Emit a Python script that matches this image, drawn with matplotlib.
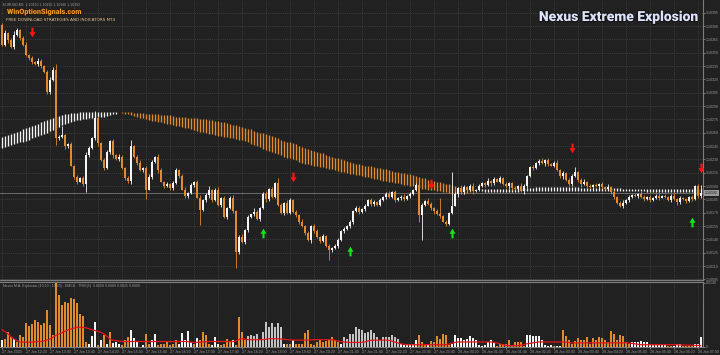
import matplotlib
matplotlib.use("Agg")
import matplotlib.pyplot as plt
import numpy as np
from matplotlib.path import Path
import matplotlib.patheffects as pe
from matplotlib import font_manager as fm
from matplotlib.transforms import blended_transform_factory

# ---------------- data (prices in points: price = 1.10000 + pts/100000) ----------------
open0_pts = 381
close_pts = [
    359, 372, 364, 356, 370, 376, 367, 359, 347, 344,
    340, 337, 341, 335, 328, 306, 319, 331, 254, 255,
    257, 245, 247, 223, 210, 205, 209, 202, 235, 243,
    254, 277, 248, 229, 220, 238, 251, 235, 230, 233,
    220, 209, 206, 245, 233, 226, 218, 220, 196, 210,
    227, 233, 218, 205, 200, 202, 198, 203, 218, 211,
    196, 189, 192, 201, 205, 187, 173, 184, 190, 196,
    184, 196, 179, 187, 165, 175, 187, 172, 126, 143,
    137, 151, 165, 168, 171, 163, 175, 191, 185, 197,
    188, 203, 179, 170, 181, 170, 184, 171, 167, 160,
    155, 147, 139, 155, 149, 143, 138, 144, 133, 128,
    130, 133, 139, 149, 152, 155, 160, 172, 175, 171,
    174, 178, 184, 180, 182, 179, 184, 188, 191, 188,
    193, 184, 187, 188, 185, 189, 191, 196, 201, 167,
    179, 183, 180, 175, 172, 168, 166, 160, 157, 170,
    178, 191, 198, 193, 199, 196, 200, 194, 196, 200,
    203, 201, 206, 203, 208, 205, 209, 202, 200, 203,
    198, 197, 200, 194, 200, 211, 221, 220, 226, 228,
    226, 229, 225, 223, 226, 218, 211, 215, 207, 202,
    211, 216, 207, 202, 205, 200, 199, 201, 200, 202,
    199, 197, 199, 193, 188, 181, 178, 181, 184, 188,
    190, 189, 191, 188, 185, 188, 184, 187, 189, 187,
    189, 188, 184, 189, 185, 182, 187, 185, 183, 188,
    185, 200, 189, 192,
]
wick_up_pts = [
    2, 3, 1, 2, 4, 2, 1, 2, 3, 1,
    2, 1, 3, 2, 1, 2, 4, 3, 6, 2,
    11, 2, 1, 3, 1, 2, 1, 2, 3, 2,
    1, 7, 2, 1, 3, 2, 1, 2, 1, 3,
    2, 1, 2, 7, 1, 2, 3, 1, 2, 3,
    2, 1, 3, 2, 1, 2, 1, 3, 2, 1,
    2, 3, 1, 2, 1, 2, 3, 1, 2, 4,
    1, 2, 3, 1, 2, 1, 2, 3, 1, 2,
    3, 1, 2, 1, 4, 2, 1, 2, 3, 1,
    2, 1, 6, 2, 1, 3, 2, 1, 2, 1,
    3, 1, 2, 1, 2, 3, 1, 2, 1, 2,
    1, 2, 3, 1, 2, 1, 2, 1, 3, 2,
    1, 2, 1, 3, 2, 1, 2, 1, 2, 3,
    1, 2, 1, 2, 3, 1, 2, 1, 2, 6,
    2, 1, 3, 2, 1, 2, 18, 1, 2, 1,
    38, 2, 1, 3, 2, 1, 2, 3, 1, 2,
    1, 2, 3, 1, 2, 1, 2, 1, 3, 2,
    1, 2, 1, 3, 2, 1, 2, 3, 1, 2,
    3, 1, 2, 1, 2, 3, 1, 2, 1, 2,
    2, 5, 1, 2, 3, 1, 2, 1, 2, 1,
    2, 1, 3, 1, 2, 1, 2, 3, 1, 2,
    1, 2, 1, 3, 2, 1, 2, 1, 2, 3,
    1, 2, 1, 2, 3, 1, 2, 1, 2, 1,
    2, 1, 2, 9,
]
wick_dn_pts = [
    1, 2, 3, 1, 2, 1, 3, 2, 1, 2,
    3, 1, 2, 2, 1, 3, 2, 1, 8, 2,
    1, 3, 2, 1, 2, 3, 1, 2, 9, 2,
    1, 2, 3, 1, 2, 1, 2, 3, 1, 2,
    1, 2, 3, 4, 1, 2, 1, 2, 11, 1,
    2, 1, 3, 1, 2, 1, 2, 3, 1, 2,
    1, 2, 3, 1, 2, 1, 17, 1, 2, 3,
    2, 1, 2, 3, 1, 2, 1, 2, 18, 3,
    1, 2, 3, 1, 2, 1, 2, 1, 3, 2,
    1, 2, 1, 2, 3, 1, 2, 1, 2, 3,
    1, 2, 1, 3, 2, 1, 2, 1, 2, 11,
    2, 1, 3, 1, 2, 1, 2, 3, 1, 2,
    1, 2, 1, 2, 3, 1, 2, 1, 3, 2,
    1, 2, 1, 3, 2, 1, 2, 1, 2, 8,
    28, 2, 1, 2, 3, 1, 2, 1, 2, 1,
    2, 1, 3, 1, 2, 1, 2, 3, 1, 2,
    1, 2, 1, 3, 2, 1, 2, 1, 2, 3,
    2, 1, 2, 1, 3, 2, 1, 2, 1, 2,
    1, 3, 2, 1, 2, 1, 2, 3, 1, 2,
    2, 1, 2, 3, 1, 2, 1, 2, 1, 3,
    1, 2, 1, 2, 3, 1, 2, 3, 1, 2,
    2, 1, 3, 1, 2, 1, 2, 1, 2, 3,
    1, 2, 1, 2, 1, 3, 2, 1, 2, 1,
    2, 1, 2, 2,
]
ma_fast_pts = [
    255, 256, 257, 259, 260, 261, 262, 264, 265, 266,
    268, 269, 270, 272, 273, 274, 275, 277, 278, 279,
    280, 280.5, 281, 282, 282, 282.5, 283, 283, 283, 283,
    283, 283, 283, 283, 283, 283, 283, 283, 283, 282.5,
    282, 281, 280.5, 280, 279, 278, 277, 277, 275, 274,
    273.5, 273, 272.5, 272, 271, 270, 270, 269, 268, 267,
    266, 265, 265, 264, 263, 262, 261, 261, 260, 259,
    259, 257, 256, 256, 255, 255, 254, 253.5, 253, 252,
    252, 251, 249, 247, 246, 245, 243.5, 242, 241, 239,
    238, 237, 236, 235, 233, 232, 231, 230, 229, 227,
    226, 225, 225, 224, 223, 223, 221, 221, 220, 219,
    219, 218, 217, 216, 216, 215, 214, 213, 212, 212,
    211, 210, 210, 209, 208, 208, 207, 206, 206, 205,
    205, 203, 203, 202, 201, 201, 200, 200, 199, 198,
    197, 197, 196, 196, 195, 194, 194, 193, 193, 192,
    192, 191.5, 191, 191, 191, 192, 193, 194, 195.5, 196,
    196.5, 197, 197, 197, 197, 197, 197, 197, 197, 197,
    197, 197, 197.5, 197.5, 197.5, 198, 198, 198, 198.5, 198.5,
    198.5, 198.5, 198.5, 198.5, 198.5, 198.5, 198.5, 198.5, 198.5, 198.5,
    198.5, 198.5, 198.5, 198, 198, 198, 198, 198, 198, 198,
    198, 198, 198, 197.5, 197.5, 197.5, 197.5, 197, 197, 197,
    197, 197, 197, 197, 197, 196.5, 196.5, 196.5, 196.5, 196.5,
    196.5, 196.5, 196.5, 196.5, 196.5, 196.5, 196.5, 196.5, 196.5, 196.5,
    196.5, 196.5, 196.5, 196.5,
]
ma_slow_pts = [
    243, 244, 245, 246, 247, 248, 249, 250, 251, 252,
    253.5, 255, 256, 257, 259, 260, 262, 263, 265, 266,
    269, 270, 271, 272, 273, 274, 274, 275, 275.5, 276,
    277, 277, 278, 278, 278, 279, 280, 281, 281.5, 282,
    283, 283, 283, 283, 282, 282, 282, 282, 281.5, 281.5,
    281, 281, 280.5, 280, 280, 279.5, 279.5, 279, 278, 278,
    278, 278, 277, 277, 277, 276, 275, 275, 275, 274,
    274, 273, 273, 272, 272, 271, 270, 269, 269, 268,
    266, 265, 264, 264, 262, 261, 260, 260, 259, 257,
    256, 255, 254, 252, 251, 250, 249, 248, 247, 245,
    244, 243, 242, 241, 239, 238, 237, 237, 235, 234,
    233, 232, 231, 230, 229, 228, 227, 226, 225, 225,
    224, 223, 223, 222, 221, 220, 220, 219, 219, 218,
    217, 216, 216, 215, 215, 214, 213, 212, 211, 210,
    209, 209, 207, 206, 206, 205, 204, 203, 202, 202,
    201, 200, 199, 198, 198, 197, 197, 196, 195.5, 195,
    194, 193.5, 193.5, 193.5, 193.5, 193.5, 193.5, 193.5, 193.5, 193.5,
    193.5, 193.5, 193.5, 194, 194, 194, 194, 194, 194.5, 194.5,
    194.5, 194.5, 194.5, 194.5, 194.5, 194.5, 194.5, 194.5, 194.5, 194.5,
    194.5, 194.5, 194.5, 194.5, 194.5, 194.5, 194.5, 194.5, 194.5, 194.5,
    194.5, 194.5, 194.5, 194.5, 194.5, 194, 194, 194, 194, 194,
    194, 194, 194, 194, 194, 193.5, 193.5, 193.5, 193.5, 193.5,
    193.5, 193.5, 193.5, 193.5, 193.5, 193.5, 193.5, 193.5, 193.5, 193.5,
    193.5, 193.5, 193.5, 193.5,
]
# histogram of the sub-window (units of 0.0001) and its colour code
hist_vals = [
    15, 18, 33, 22, 18, 11, 26, 22, 53, 46, 50, 60, 55, 48, 52, 81, 48, 26, 140, 114,
    92, 99, 96, 107, 105, 97, 72, 68, 11, 7, 24, 55, 4, 15, 26, 7, 33, 9, 11, 7,
    4, 15, 22, 38, 20, 11, 1, 4, 29, 7, 15, 29, 4, 7, 6, 13, 4, 7, 16, 7,
    31, 15, 35, 11, 7, 20, 15, 32, 26, 7, 4, 21, 7, 4, 7, 18, 11, 16, 4, 65,
    33, 16, 24, 26, 24, 29, 15, 32, 55, 43, 53, 43, 53, 43, 6, 7, 6, 16, 7, 7,
    6, 31, 37, 6, 4, 11, 15, 12, 13, 18, 21, 15, 10, 6, 22, 18, 28, 29, 44, 40,
    38,
    31, 33, 38, 31, 22, 15, 22, 22, 22, 27, 22, 17, 6, 4, 6, 7, 6, 15, 27, 10,
    4, 4, 13, 11, 24, 18, 28, 27, 4, 6, 27, 20, 20, 15, 18, 24, 20, 15, 4, 3,
    5, 11, 15, 11, 3, 6, 6, 6, 15, 4, 12, 12, 10, 3, 27, 27, 24, 24, 25, 15,
    4, 3, 4, 2, 3, 3, 38, 23, 15, 6, 13, 20, 16, 16, 21, 7, 19, 15, 21, 19,
    16, 12, 35, 28, 16, 27, 24, 12, 6, 10, 10, 10, 13, 10, 10, 6, 5, 5, 5, 4,
    4, 3, 3, 3, 6, 6, 3, 2, 3, 3, 6, 6, 21,
]
hist_kind = list(
    "wooowooooo" "oooooooooo" "ooooooooow" "wwowowowww" "ooowwwwwoo"
    "wwooooooow" "wwwwowoooo" "wwwoooowoo" "oogggggggg" "ggggwoowoo"
    "oooooooooo" "ooowgggggg" "g"
    "gggggggggggg" "wwwwww" "ooo" "w" "ooooooo" "wwwwwwwwwwwwwww" "oooooooooo"
    "wwwwwwwww" "o" "ww" "ooooooooooooooooooooooo" "wwwwwwwwwwww" "oo" "www" "oooo" "www"
)
signal_vals = [
    38, 34, 29, 23, 18, 14, 11, 11, 10.5, 10.5,
    11, 11, 12, 12, 13, 15, 17, 21, 25, 28,
    31, 34, 37, 39, 41, 43, 43, 43, 42, 40,
    38, 36, 34, 32, 29, 24, 18, 15, 14, 13,
    12.5, 12, 12, 12, 12, 12, 12, 12, 12, 12,
    12, 12, 12, 12, 12, 12, 12, 12, 12, 12,
    12, 12, 12, 10.5, 10, 10, 10.5, 11, 11.5, 12,
    12, 12, 12, 12, 12, 12, 12, 12, 13, 16,
    18, 17.5, 16, 16, 16, 16, 16, 16, 17, 18,
    18, 18, 18, 17.5, 17, 16, 15.5, 15, 15, 15,
    15, 15, 15, 15.5, 16, 16, 16, 16, 16, 16,
    16, 15, 13, 12, 11, 10.5, 10, 10, 10, 10,
    10.5, 11, 13, 14.5, 15, 15, 15, 15, 15, 14.5,
    13, 11, 9, 7, 6, 5, 5, 5, 5, 5,
    5, 5, 5, 5, 5, 5, 5, 5, 5, 6,
    8, 10, 11, 11, 11, 11, 11, 11, 11, 11,
    11, 11, 11, 11, 10, 9, 7, 5, 4, 3,
    3, 3, 3, 4, 5, 7, 8, 9, 10, 11,
    11, 11, 11, 11, 11, 11, 11, 11, 10.5, 10,
    9, 9, 9, 9, 9, 9, 9, 9, 9, 9,
    9, 9, 9, 9, 9, 9, 9, 9, 9, 8.5,
    8, 7, 6, 5, 5, 5, 5, 5, 5, 5,
    5, 5, 5, 5, 5, 5, 4.5, 4.5, 4, 4,
    4, 3.5, 3.5, 3,
]
# signal arrows: bar index and price (points)
sell_bars = [10, 97, 143, 190, 233]
sell_pts = [373, 210, 202, 243, 220]
buy_bars = [87, 116, 150, 230]
buy_pts = [147, 127, 147, 160]

time_labels = [
    "27 Jan 2020", "27 Jan 12:20", "27 Jan 13:00", "27 Jan 13:40", "27 Jan 14:20",
    "27 Jan 15:00", "27 Jan 15:40", "27 Jan 16:20", "27 Jan 17:00", "27 Jan 17:40",
    "27 Jan 18:20", "27 Jan 19:00", "27 Jan 19:40", "27 Jan 20:20", "27 Jan 21:00",
    "27 Jan 21:40", "27 Jan 22:20", "27 Jan 23:00", "27 Jan 23:40", "28 Jan 00:20",
    "28 Jan 01:00", "28 Jan 01:40", "28 Jan 02:20", "28 Jan 03:00", "28 Jan 03:40",
    "28 Jan 04:20", "28 Jan 05:00", "28 Jan 05:40", "28 Jan 06:20", "28 Jan 07:00",
]
label_step = 8
price_ticks_pts = [395 - 15 * k for k in range(21)]

# ---------------- style ----------------
BG = "#212121"
GRID = "#474747"
SPINE = "#7d7d7d"
TXT = "#9c9c9c"
ORANGE = "#e08b2e"
WHITE = "#f4f4f4"
GREY = "#c4c4c4"

title_fp = fm.FontProperties(family=["Roboto", "DejaVu Sans"], weight=900, size=10.0)
logo_fp = fm.FontProperties(family=["Roboto", "DejaVu Sans"], weight=900, size=5.2)
tick_fp = fm.FontProperties(family=["Liberation Sans", "DejaVu Sans"], size=2.5)
small_fp = fm.FontProperties(family=["Liberation Sans", "DejaVu Sans"], size=2.5)

plt.rcParams["font.family"] = ["DejaVu Sans"]

W, H = 720, 355
fig = plt.figure(figsize=(W / 100, H / 100), dpi=100, facecolor=BG)
ax = fig.add_axes([0, 1 - 280 / H, 703 / W, 280 / H], facecolor=BG)
ax2 = fig.add_axes([0, 1 - 347 / H, 703 / W, 65 / H], facecolor=BG)

N = len(close_pts)
x = np.arange(N)
close = 1.1 + np.array(close_pts) / 1e5
opens = np.concatenate([[1.1 + open0_pts / 1e5], close[:-1]])
hi_body = np.maximum(opens, close)
lo_body = np.minimum(opens, close)
highs = hi_body + np.array(wick_up_pts) / 1e5
lows = lo_body - np.array(wick_dn_pts) / 1e5
bull = close >= opens
ccol = np.where(bull, WHITE, ORANGE)

fast = 1.1 + np.array(ma_fast_pts) / 1e5
slow = 1.1 + np.array(ma_slow_pts) / 1e5
rcol = np.where(fast >= slow, WHITE, ORANGE)

# x range: bar i at pixel 1.7 + 3*i
xmin = -1.7 / 3
xmax = (703 - 1.7) / 3
ytop = 1.1 + 409.3 / 1e5
ybot = 1.1 + (409.3 - 1.125 * 280) / 1e5

# --- main panel ---
ax.set_xlim(xmin, xmax)
ax.set_ylim(ybot, ytop)
tick_bars = list(range(0, N, label_step))[: len(time_labels)]
ax.set_xticks(tick_bars)
ax.set_xticklabels([])
ax.tick_params(axis="x", length=0)
yt = [1.1 + p / 1e5 for p in price_ticks_pts]
ax.yaxis.tick_right()
ax.set_yticks(yt)
ax.set_yticklabels([f"{v:.5f}" for v in yt], fontproperties=tick_fp)
ax.tick_params(axis="y", colors=TXT, length=1.2, pad=0.6, width=0.5)
ax.grid(True, color=GRID, ls=(0, (1.2, 1.6)), lw=0.55)
for s in ["left", "top"]:
    ax.spines[s].set_visible(False)
ax.spines["right"].set_color(SPINE)
ax.spines["bottom"].set_color(SPINE)
ax.spines["right"].set_linewidth(0.8)
ax.spines["bottom"].set_linewidth(1.0)

ax.vlines(x, slow, fast, colors=rcol, lw=0.95, zorder=2)
ax.vlines(x, lows, highs, colors=ccol, lw=0.6, zorder=3)
ax.bar(x, np.maximum(hi_body - lo_body, 0.5e-5), bottom=lo_body, width=0.62,
       color=ccol, linewidth=0, zorder=4)

last = close[-1]
ax.axhline(last, color="#6b6b6b", lw=0.7, zorder=1)
tr = blended_transform_factory(ax.transAxes, ax.transData)
ax.text(1.0025, last, f"{last:.5f}", transform=tr, fontproperties=tick_fp, color="#151515",
        va="center", ha="left", clip_on=False, zorder=6,
        bbox=dict(boxstyle="square,pad=0.25", fc="#9a9a9a", ec="none"))

# arrows
down = Path([(-0.22, 1.0), (0.22, 1.0), (0.22, 0.05), (0.62, 0.05), (0.0, -1.0),
             (-0.62, 0.05), (-0.22, 0.05), (-0.22, 1.0)],
            [Path.MOVETO] + [Path.LINETO] * 6 + [Path.CLOSEPOLY])
up = Path([(-0.22, -1.0), (0.22, -1.0), (0.22, -0.05), (0.62, -0.05), (0.0, 1.0),
           (-0.62, -0.05), (-0.22, -0.05), (-0.22, -1.0)],
          [Path.MOVETO] + [Path.LINETO] * 6 + [Path.CLOSEPOLY])
ax.plot(sell_bars, [1.1 + p / 1e5 for p in sell_pts], ls="none", marker=down,
        ms=7, color="#ff1414", mec="none", zorder=7)
ax.plot(buy_bars, [1.1 + p / 1e5 for p in buy_pts], ls="none", marker=up,
        ms=7, color="#12e61a", mec="none", zorder=7)

# --- indicator panel ---
ax2.set_xlim(xmin, xmax)
ax2.set_ylim(0, 0.0142)
hcol = {"o": ORANGE, "w": WHITE, "g": GREY}
ax2.bar(x, np.array(hist_vals) * 1e-4, width=0.6,
        color=[hcol[k] for k in hist_kind], linewidth=0, zorder=3)
ax2.plot(x, np.array(signal_vals) * 1e-4, color="#e5131b", lw=0.9, zorder=4)
ax2.set_xticks(tick_bars)
ax2.set_xticklabels(time_labels, ha="left", fontproperties=tick_fp)
ax2.tick_params(axis="x", colors=TXT, length=1.5, pad=1.0, width=0.5)
ax2.yaxis.tick_right()
ax2.set_yticks([0, 0.014])
ax2.set_yticklabels(["0", "0.0140"], fontproperties=tick_fp)
ax2.tick_params(axis="y", colors=TXT, length=1.2, pad=0.6, width=0.5)
ax2.grid(True, axis="x", color=GRID, ls=(0, (1.2, 1.6)), lw=0.55)
ax2.spines["left"].set_visible(False)
for s in ["right", "top", "bottom"]:
    ax2.spines[s].set_color(SPINE)
    ax2.spines[s].set_linewidth(0.8)
for lab in ax2.get_xticklabels():
    lab.set_horizontalalignment("left")

ax2.text(0.004, 0.965, "Nexus M.A. Explosion (10,50 - 10,20) - EMCD - TRIG(5)  0.0058 0.0000 0.0025 0.0000",
         transform=ax2.transAxes, fontproperties=small_fp, color=TXT, va="top", ha="left")

# --- header texts ---
fig.text(3 / W, 1 - 4.5 / H, "EURUSD,M5  1.10190 1.10195 1.10186 1.10192",
         fontproperties=small_fp, color=TXT, va="center", ha="left")
fig.text(7 / W, 1 - 12 / H, "WinOptionSignals.com", fontproperties=logo_fp,
         color="#f29a2a", va="center", ha="left",
         path_effects=[pe.withStroke(linewidth=1.4, foreground="#2a1a08")])
fig.text(6 / W, 1 - 20 / H, "FREE DOWNLOAD STRATEGIES AND INDICATORS MT4",
         fontsize=3.0, color="#e9c48e", va="center", ha="left")
fig.text(698 / W, 1 - 17 / H, "Nexus Extreme Explosion", fontproperties=title_fp,
         color="#dde2fa", va="center", ha="right",
         path_effects=[pe.withStroke(linewidth=1.6, foreground="#151515")])

fig.savefig("out.png", dpi=100, facecolor=BG)
